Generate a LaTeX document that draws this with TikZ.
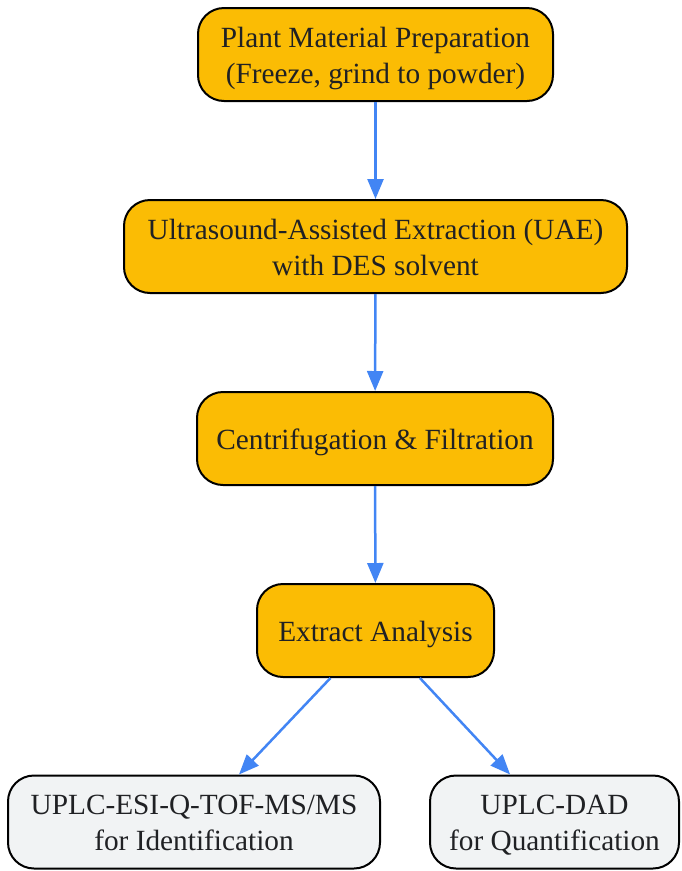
\documentclass[tikz,border=0pt]{standalone}
\usepackage{fontspec}
\setmainfont{Liberation Serif}
\usetikzlibrary{arrows.meta}
\definecolor{stepfill}{HTML}{FBBC04}
\definecolor{endfill}{HTML}{F1F3F4}
\definecolor{arrowblue}{HTML}{4285F4}
\definecolor{txt}{HTML}{202124}
\newcommand{\boxtext}[1]{\raisebox{-3.5pt}[\height][\depth]{\begin{tabular}{@{}c@{}}#1\end{tabular}}}
\begin{document}
\begin{tikzpicture}[x=1pt,y=-1pt,
  stepbox/.style={draw=black, line width=2pt, fill=stepfill, rounded corners=26pt,
    minimum height=93pt, inner sep=0pt, align=center, text=txt,
    font=\fontsize{29.3}{36}\selectfont},
  endbox/.style={stepbox, fill=endfill},
  flow/.style={draw=arrowblue, line width=2.5pt, -{Triangle[length=20pt,width=16pt]}}]
\useasboundingbox (0,0) rectangle (681,871);
\node[stepbox, minimum width=355pt] (n1) at (375.5,54.5) {\boxtext{Plant Material Preparation\\(Freeze, grind to powder)}};
\node[stepbox, minimum width=503pt] (n2) at (375.5,246.5) {\boxtext{Ultrasound-Assisted Extraction (UAE)\\with DES solvent}};
\node[stepbox, minimum width=356pt] (n3) at (375,438.5) {\boxtext{Centrifugation \& Filtration}};
\node[stepbox, minimum width=237pt] (n4) at (375.5,630.5) {\boxtext{Extract Analysis}};
\node[endbox, minimum width=372pt] (n5) at (194,822) {\boxtext{UPLC-ESI-Q-TOF-MS/MS\\for Identification}};
\node[endbox, minimum width=249pt] (n6) at (554.5,822) {\boxtext{UPLC-DAD\\for Quantification}};
\draw[flow] (n1) -- (n2);
\draw[flow] (n2) -- (n3);
\draw[flow] (n3) -- (n4);
\draw[flow] (n4) -- (n5);
\draw[flow] (n4) -- (n6);
\end{tikzpicture}
\end{document}
